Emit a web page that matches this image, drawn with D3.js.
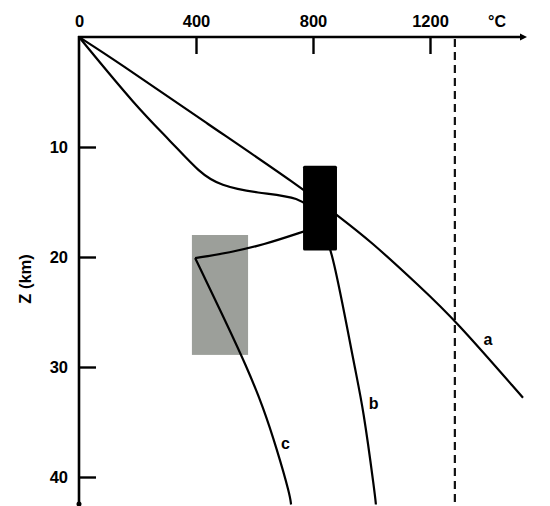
<!DOCTYPE html>
<html>
<head>
<meta charset="utf-8">
<script src="https://cdn.jsdelivr.net/npm/d3@7"></script>
<style>
  body { margin: 0; background: #fff; }
  text { font-family: "Liberation Sans", Arial, sans-serif; }
</style>
</head>
<body>
<div id="container"></div>
<script>
// temperature (°C) / depth (km) pairs
const geothermA = [[0, 0], [123, 2.1], [440, 7.9], [756, 13.6], [882, 16.2], [995, 18.5], [1166, 22.7], [1285, 25.7], [1518, 32.8]];
const geothermB = [[0, 0], [198, 6.4], [311, 9.4], [414, 12.4], [482, 13.5], [609, 14.2], [756, 14.5], [820, 16.2], [868, 19.5], [944, 30.3], [971, 33.6], [1012, 41.6], [1015, 42.5]];
const geothermC = [[800, 17.4], [766, 17.7], [629, 18.9], [516, 19.6], [397, 20.1], [486, 25.0], [574, 30.0], [629, 33.6], [677, 37.5], [721, 41.6], [725, 42.5]];
const curveLabels = ["a", "b", "c"];
const labelSpots = [[1398, 27.5], [1007, 33.3], [706, 36.9]];

// rectangles: [T0, T1, z0, z1]
const blackBox = [766, 882, 11.7, 19.4];
const grayBox = [386, 578, 18.0, 28.9];

const solidusT = 1285;
const xTicks = [0, 400, 800, 1200];
const yTicks = [10, 20, 30, 40];

const width = 550, height = 506;

const x = d3.scaleLinear().domain([0, 1200]).range([79, 430]);
const y = d3.scaleLinear().domain([0, 40]).range([37, 477]);

const svg = d3.select("#container")
    .append("svg")
    .attr("width", width)
    .attr("height", height);

// gray shaded zone
svg.append("rect")
    .attr("x", x(grayBox[0]))
    .attr("y", y(grayBox[2]))
    .attr("width", x(grayBox[1]) - x(grayBox[0]))
    .attr("height", y(grayBox[3]) - y(grayBox[2]))
    .attr("fill", "#9c9f9a");

// dashed solidus
svg.append("line")
    .attr("x1", x(solidusT)).attr("x2", x(solidusT))
    .attr("y1", y(0) + 2).attr("y2", height)
    .attr("stroke", "#111")
    .attr("stroke-width", 2.2)
    .attr("stroke-dasharray", "8,5");

const line = d3.line()
    .x(d => x(d[0]))
    .y(d => y(d[1]))
    .curve(d3.curveBasis);

// curve c has a sharp kink at its coolest point: draw it as two pieces
const kink = d3.minIndex(geothermC, d => d[0]);
const pieces = [geothermA, geothermB, geothermC.slice(0, kink + 1), geothermC.slice(kink)];

svg.selectAll("path.geotherm")
    .data(pieces)
    .join("path")
    .attr("class", "geotherm")
    .attr("d", line)
    .attr("fill", "none")
    .attr("stroke", "#000")
    .attr("stroke-width", 2.2);

// black box on top of the curves
svg.append("rect")
    .attr("x", x(blackBox[0]))
    .attr("y", y(blackBox[2]))
    .attr("width", x(blackBox[1]) - x(blackBox[0]))
    .attr("height", y(blackBox[3]) - y(blackBox[2]))
    .attr("rx", 1.5)
    .attr("fill", "#000");

svg.selectAll("text.curve-label")
    .data(curveLabels)
    .join("text")
    .attr("class", "curve-label")
    .attr("x", (d, i) => x(labelSpots[i][0]))
    .attr("y", (d, i) => y(labelSpots[i][1]))
    .attr("text-anchor", "middle")
    .attr("dy", "0.35em")
    .attr("font-size", "16px")
    .attr("font-weight", "bold")
    .text(d => d);

// axes
const xAxis = svg.append("g")
    .attr("transform", `translate(0,${y(0)})`)
    .call(d3.axisTop(x).tickValues(xTicks).tickFormat(d3.format("d"))
        .tickSizeInner(-17).tickSizeOuter(0).tickPadding(10));
const yAxis = svg.append("g")
    .attr("transform", `translate(${x(0)},0)`)
    .call(d3.axisLeft(y).tickValues(yTicks).tickFormat(d3.format("d"))
        .tickSizeInner(-17).tickSizeOuter(0).tickPadding(11));

[xAxis, yAxis].forEach(g => {
    g.select(".domain").remove();
    g.selectAll(".tick line").attr("stroke", "#000").attr("stroke-width", 2.4);
    g.selectAll(".tick text")
        .attr("fill", "#000")
        .attr("font-size", "16.5px")
        .attr("font-weight", "bold")
        .attr("font-family", "'Liberation Sans', Arial, sans-serif");
});
xAxis.selectAll(".tick").filter(d => d === 0).select("line").remove();

svg.append("line")
    .attr("x1", x(0) - 1).attr("x2", 520)
    .attr("y1", y(0)).attr("y2", y(0))
    .attr("stroke", "#000").attr("stroke-width", 2.6);
svg.append("path")
    .attr("d", `M520,${y(0) - 3.5}L527,${y(0)}L520,${y(0) + 3.5}Z`)
    .attr("fill", "#000");

svg.append("line")
    .attr("x1", x(0)).attr("x2", x(0))
    .attr("y1", y(0) - 1).attr("y2", 504)
    .attr("stroke", "#000").attr("stroke-width", 2.6);
svg.append("circle")
    .attr("cx", x(0)).attr("cy", 504).attr("r", 2.5)
    .attr("fill", "#000");

svg.append("text")
    .attr("x", 497)
    .attr("y", y(0) - 10)
    .attr("text-anchor", "middle")
    .attr("font-size", "16px")
    .attr("font-weight", "bold")
    .text("°C");

svg.append("text")
    .attr("transform", "translate(31,279) rotate(-90)")
    .attr("text-anchor", "middle")
    .attr("font-size", "16.5px")
    .attr("font-weight", "bold")
    .text("Z (km)");
</script>
</body>
</html>
